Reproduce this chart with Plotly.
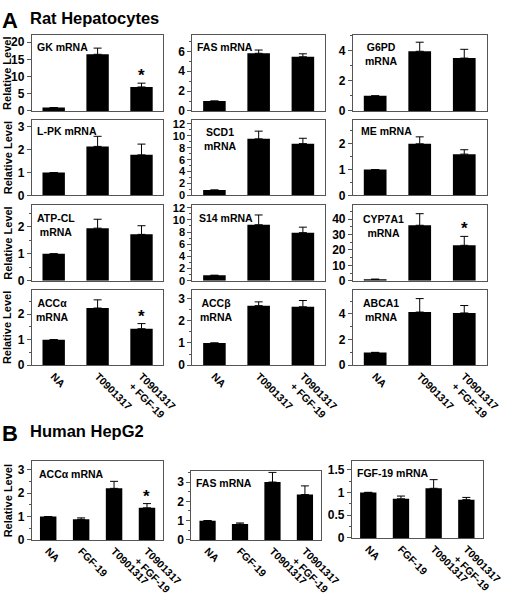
import plotly.graph_objects as go

W, H = 520, 597
FONT = "Liberation Sans, Arial, Helvetica, sans-serif"
AXC = "#555555"

# ---------------- data ----------------
rat_groups = ["NA", "T0901317", "T0901317<br>+ FGF-19"]
hepg2_groups = ["NA", "FGF-19", "T0901317", "T0901317<br>+ FGF-19"]

gk_mean = [1.0, 16.5, 7.0]
gk_err = [0, 1.8, 1.1]
fas_mean = [1.0, 5.8, 5.45]
fas_err = [0, 0.33, 0.3]
g6pd_mean = [1.0, 3.95, 3.5]
g6pd_err = [0, 0.6, 0.58]
lpk_mean = [1.0, 2.14, 1.77]
lpk_err = [0, 0.44, 0.47]
scd1_mean = [0.9, 9.5, 8.7]
scd1_err = [0, 1.3, 0.9]
me_mean = [1.0, 2.0, 1.6]
me_err = [0, 0.27, 0.17]
atpcl_mean = [1.0, 1.95, 1.72]
atpcl_err = [0, 0.33, 0.32]
s14_mean = [0.9, 9.2, 7.9]
s14_err = [0, 1.6, 0.9]
cyp7a1_mean = [1.0, 36.0, 23.0]
cyp7a1_err = [0, 7.5, 5.8]
acca_mean = [1.0, 2.24, 1.43]
acca_err = [0, 0.32, 0.2]
accb_mean = [1.0, 2.68, 2.63]
accb_err = [0, 0.17, 0.28]
abca1_mean = [1.0, 4.15, 4.08]
abca1_err = [0, 1.05, 0.58]

hg_acca_mean = [1.0, 0.88, 2.2, 1.37]
hg_acca_err = [0, 0.06, 0.3, 0.18]
hg_fas_mean = [1.0, 0.82, 3.0, 2.35]
hg_fas_err = [0, 0.06, 0.5, 0.45]
hg_fgf19_mean = [1.0, 0.86, 1.09, 0.84]
hg_fgf19_err = [0, 0.06, 0.19, 0.05]

rat_sig = [False, False, True]
rat_ns = [False, False, False]
hg_sig = [False, False, False, True]
hg_ns = [False, False, False, False]

# ---------------- layout spec (pixel boxes: x0, x1, ytop, ybottom) ----------------
C1, C2, C3 = (33, 170), (200, 338), (367, 506)
R1, R2, R3, R4 = (32, 109), (118, 195), (205, 282), (291, 368)

panels = [
    dict(t="GK mRNA", g=rat_groups, m=gk_mean, e=gk_err, s=rat_sig, c=C1, r=R1, yr=22, dt=5, mn=None, pad=(3, 4), lab=False, ytitle=True),
    dict(t="FAS mRNA", g=rat_groups, m=fas_mean, e=fas_err, s=rat_ns, c=C2, r=R1, yr=7.6, dt=2, mn=1, pad=(3, 4), lab=False),
    dict(t="G6PD<br>mRNA", g=rat_groups, m=g6pd_mean, e=g6pd_err, s=rat_ns, c=C3, r=R1, yr=5.0, dt=2, mn=1, pad=(10, 4), lab=False),
    dict(t="L-PK mRNA", g=rat_groups, m=lpk_mean, e=lpk_err, s=rat_ns, c=C1, r=R2, yr=3.3, dt=1, mn=None, pad=(3, 3), lab=False, ytitle=True),
    dict(t="SCD1<br>mRNA", g=rat_groups, m=scd1_mean, e=scd1_err, s=rat_ns, c=C2, r=R2, yr=12.7, dt=2, mn=1, pad=(10, 4), lab=False, tfs=11),
    dict(t="ME mRNA", g=rat_groups, m=me_mean, e=me_err, s=rat_ns, c=C3, r=R2, yr=2.93, dt=1, mn=0.5, pad=(6, 3), lab=False),
    dict(t="ATP-CL<br>mRNA", g=rat_groups, m=atpcl_mean, e=atpcl_err, s=rat_ns, c=C1, r=R3, yr=2.8, dt=1, mn=0.5, pad=(3, 5), lab=False, ytitle=True),
    dict(t="S14 mRNA", g=rat_groups, m=s14_mean, e=s14_err, s=rat_ns, c=C2, r=R3, yr=12.4, dt=2, mn=1, pad=(5, 5), lab=False, tfs=11),
    dict(t="CYP7A1<br>mRNA", g=rat_groups, m=cyp7a1_mean, e=cyp7a1_err, s=rat_sig, c=C3, r=R3, yr=49, dt=10, mn=5, pad=(8, 6), lab=False),
    dict(t="ACCα<br>mRNA", g=rat_groups, m=acca_mean, e=acca_err, s=rat_sig, c=C1, r=R4, yr=2.96, dt=1, mn=0.5, pad=(2, 5), lab=True, ytitle=True),
    dict(t="ACCβ<br>mRNA", g=rat_groups, m=accb_mean, e=accb_err, s=rat_ns, c=C2, r=R4, yr=3.4, dt=1, mn=0.5, pad=(6, 5), lab=True),
    dict(t="ABCA1<br>mRNA", g=rat_groups, m=abca1_mean, e=abca1_err, s=rat_ns, c=C3, r=R4, yr=5.9, dt=2, mn=1, pad=(8, 5), lab=True),
    dict(t="ACCα mRNA", g=hepg2_groups, m=hg_acca_mean, e=hg_acca_err, s=hg_sig, c=(33, 170), r=(466, 546), yr=3.35, dt=1, mn=0.5, pad=(5, 5), lab=True, ytitle=True),
    dict(t="FAS mRNA", g=hepg2_groups, m=hg_fas_mean, e=hg_fas_err, s=hg_ns, c=(199, 334), r=(476, 546), yr=3.56, dt=1, mn=0.5, pad=(3, 4), lab=True),
    dict(t="FGF-19 mRNA", g=hepg2_groups, m=hg_fgf19_mean, e=hg_fgf19_err, s=hg_ns, c=(366, 502), r=(466, 544), yr=1.68, dt=0.5, mn=0.25, pad=(3, 4), lab=True),
]


def b(s):
    return "<b>" + s.replace("<br>", "</b><br><b>") + "</b>"


def fmt(v):
    return ("%g" % round(v, 3))


fig = go.Figure()
annotations = []
labfont = dict(family=FONT, size=10.5, color="black")

for i, p in enumerate(panels, start=1):
    xa = "x" if i == 1 else f"x{i}"
    ya = "y" if i == 1 else f"y{i}"
    n = len(p["g"])
    xs = list(range(n))
    fig.add_trace(go.Bar(
        x=xs, y=p["m"], xaxis=xa, yaxis=ya,
        marker=dict(color="black", line=dict(width=0)),
        width=0.51 if n == 3 else 0.5,
        error_y=dict(type="data", array=p["e"], arrayminus=[0] * n, symmetric=False,
                     color="black", thickness=1, width=4),
        showlegend=False, hoverinfo="skip",
    ))
    x0, x1 = p["c"]
    yt, yb = p["r"]
    xd = [x0 / W, x1 / W]
    yd = [1 - yb / H, 1 - yt / H]
    xkey = "xaxis" if i == 1 else f"xaxis{i}"
    ykey = "yaxis" if i == 1 else f"yaxis{i}"
    fig.layout[xkey] = dict(
        domain=xd, anchor=ya, range=[-0.5, n - 0.5],
        showline=True, mirror=True, linecolor=AXC, linewidth=1,
        showgrid=False, zeroline=False, ticks="",
        tickvals=xs, ticktext=[b(g) for g in p["g"]], showticklabels=p["lab"],
        tickangle=45, tickfont=labfont, fixedrange=True,
    )
    tv = []
    k = 0
    while k * p["dt"] <= p["yr"] + 1e-9:
        tv.append(round(k * p["dt"], 6))
        k += 1
    yax = dict(
        domain=yd, anchor=xa, range=[0, p["yr"]],
        showline=True, mirror=True, linecolor=AXC, linewidth=1,
        showgrid=False, zeroline=False, ticks="outside", ticklen=4,
        tickcolor=AXC, tickwidth=1, tickvals=tv, ticktext=[b(fmt(v)) for v in tv],
        tickfont=dict(family=FONT, size=p.get("tfs", 12), color="black"), fixedrange=True,
    )
    if p["mn"]:
        yax["minor"] = dict(dtick=p["mn"], tick0=0, ticks="outside", ticklen=2,
                            tickcolor=AXC, tickwidth=1, showgrid=False)
    fig.layout[ykey] = yax

    # panel title inside box
    padx, pady = p["pad"]
    annotations.append(dict(
        xref=f"{xa} domain", yref=f"{ya} domain",
        x=padx / (x1 - x0), y=1 - pady / (yb - yt),
        xanchor="left", yanchor="top", align="center", showarrow=False,
        text=b(p["t"]), font=dict(family=FONT, size=10.5, color="black"),
    ))
    # significance asterisks
    for k in range(n):
        if p["s"][k]:
            annotations.append(dict(
                xref=xa, yref=ya, x=k, y=p["m"][k] + p["e"][k],
                xanchor="center", yanchor="bottom", showarrow=False, yshift=-4,
                text="<b>*</b>", font=dict(family=FONT, size=17, color="black"),
            ))
    if p.get("ytitle"):
        annotations.append(dict(
            xref="paper", yref="paper", x=8 / W, y=1 - (yt + yb) / 2 / H,
            xanchor="center", yanchor="middle", showarrow=False, textangle=-90,
            text="<b>Relative Level</b>", font=dict(family=FONT, size=11, color="black"),
        ))

# section headings
for letter, title, ytop in [("A", "Rat Hepatocytes", 2), ("B", "Human HepG2", 423)]:
    annotations.append(dict(
        xref="paper", yref="paper", x=0 / W, y=1 - ytop / H,
        xanchor="left", yanchor="top", showarrow=False,
        text="<b>" + letter + "</b>", font=dict(family=FONT, size=22, color="black"),
    ))
    annotations.append(dict(
        xref="paper", yref="paper", x=29 / W, y=1 - (ytop + 1) / H,
        xanchor="left", yanchor="top", showarrow=False,
        text="<b>" + title + "</b>", font=dict(family=FONT, size=16.5, color="black"),
    ))

fig.update_layout(
    width=W, height=H, margin=dict(l=0, r=0, t=0, b=0),
    paper_bgcolor="white", plot_bgcolor="white",
    annotations=annotations,
    font=dict(family=FONT, color="black"),
)

fig.write_html(
    "out.html",
    config={"displayModeBar": False, "staticPlot": True},
    post_script="document.body.style.margin='0px';document.body.style.padding='0px';",
)
